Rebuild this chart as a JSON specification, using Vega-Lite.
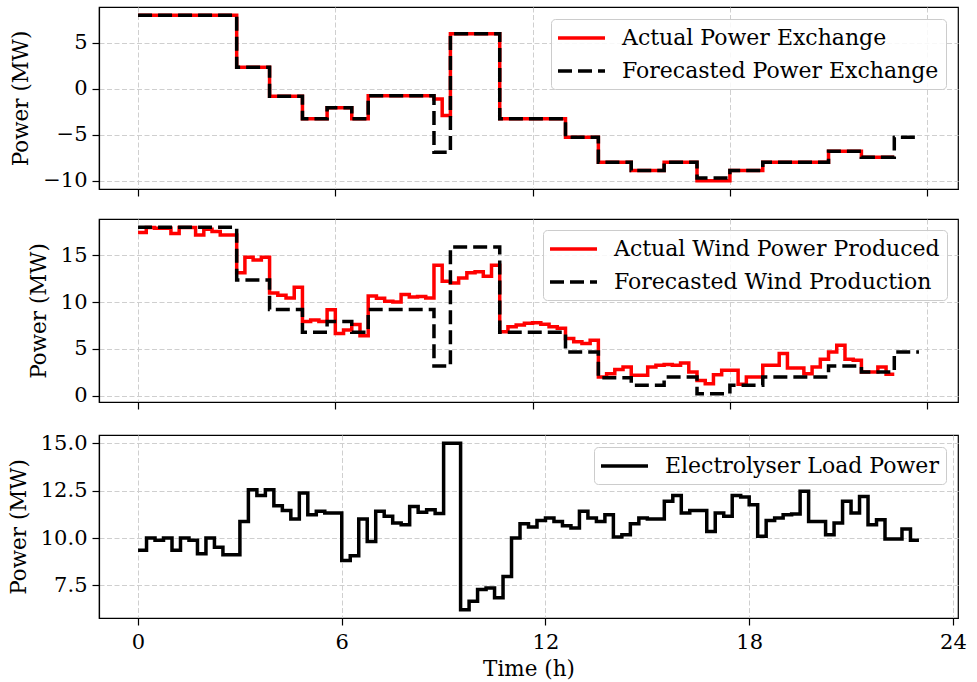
{
  "$schema": "https://vega.github.io/schema/vega-lite/v6.json",
  "background": "white",
  "padding": {"left": 7, "top": 6, "right": 20, "bottom": 2},
  "spacing": 20,
  "resolve": {"scale": {"color": "independent", "strokeDash": "independent"}, "legend": {"color": "independent", "strokeDash": "independent"}},
  "datasets": {
    "exchange": [
      {"t":0,"actual":8,"forecast":8},{"t":0.25,"actual":8,"forecast":8},{"t":0.5,"actual":8,"forecast":8},{"t":0.75,"actual":8,"forecast":8},
      {"t":1,"actual":8,"forecast":8},{"t":1.25,"actual":8,"forecast":8},{"t":1.5,"actual":8,"forecast":8},{"t":1.75,"actual":8,"forecast":8},
      {"t":2,"actual":8,"forecast":8},{"t":2.25,"actual":8,"forecast":8},{"t":2.5,"actual":8,"forecast":8},{"t":2.75,"actual":8,"forecast":8},
      {"t":3,"actual":2.35,"forecast":2.35},{"t":3.25,"actual":2.35,"forecast":2.35},{"t":3.5,"actual":2.35,"forecast":2.35},{"t":3.75,"actual":2.35,"forecast":2.35},
      {"t":4,"actual":-0.8,"forecast":-0.8},{"t":4.25,"actual":-0.8,"forecast":-0.8},{"t":4.5,"actual":-0.8,"forecast":-0.8},{"t":4.75,"actual":-0.8,"forecast":-0.8},
      {"t":5,"actual":-3.27,"forecast":-3.27},{"t":5.25,"actual":-3.27,"forecast":-3.27},{"t":5.5,"actual":-3.27,"forecast":-3.27},{"t":5.75,"actual":-2.07,"forecast":-2.07},
      {"t":6,"actual":-2.07,"forecast":-2.07},{"t":6.25,"actual":-2.07,"forecast":-2.07},{"t":6.5,"actual":-3.27,"forecast":-3.27},{"t":6.75,"actual":-3.27,"forecast":-3.27},
      {"t":7,"actual":-0.75,"forecast":-0.75},{"t":7.25,"actual":-0.75,"forecast":-0.75},{"t":7.5,"actual":-0.75,"forecast":-0.75},{"t":7.75,"actual":-0.75,"forecast":-0.75},
      {"t":8,"actual":-0.75,"forecast":-0.75},{"t":8.25,"actual":-0.75,"forecast":-0.75},{"t":8.5,"actual":-0.75,"forecast":-0.75},{"t":8.75,"actual":-0.75,"forecast":-0.75},
      {"t":9,"actual":-1.1,"forecast":-6.9},{"t":9.25,"actual":-2.9,"forecast":-6.9},{"t":9.5,"actual":6,"forecast":6},{"t":9.75,"actual":6,"forecast":6},
      {"t":10,"actual":6,"forecast":6},{"t":10.25,"actual":6,"forecast":6},{"t":10.5,"actual":6,"forecast":6},{"t":10.75,"actual":6,"forecast":6},
      {"t":11,"actual":-3.27,"forecast":-3.27},{"t":11.25,"actual":-3.27,"forecast":-3.27},{"t":11.5,"actual":-3.27,"forecast":-3.27},{"t":11.75,"actual":-3.27,"forecast":-3.27},
      {"t":12,"actual":-3.27,"forecast":-3.27},{"t":12.25,"actual":-3.27,"forecast":-3.27},{"t":12.5,"actual":-3.27,"forecast":-3.27},{"t":12.75,"actual":-3.27,"forecast":-3.27},
      {"t":13,"actual":-5.26,"forecast":-5.26},{"t":13.25,"actual":-5.26,"forecast":-5.26},{"t":13.5,"actual":-5.26,"forecast":-5.26},{"t":13.75,"actual":-5.26,"forecast":-5.26},
      {"t":14,"actual":-8,"forecast":-8},{"t":14.25,"actual":-8,"forecast":-8},{"t":14.5,"actual":-8,"forecast":-8},{"t":14.75,"actual":-8,"forecast":-8},
      {"t":15,"actual":-8.89,"forecast":-8.89},{"t":15.25,"actual":-8.89,"forecast":-8.89},{"t":15.5,"actual":-8.89,"forecast":-8.89},{"t":15.75,"actual":-8.89,"forecast":-8.89},
      {"t":16,"actual":-8,"forecast":-8},{"t":16.25,"actual":-8,"forecast":-8},{"t":16.5,"actual":-8,"forecast":-8},{"t":16.75,"actual":-8,"forecast":-8},
      {"t":17,"actual":-10,"forecast":-9.69},{"t":17.25,"actual":-10,"forecast":-9.69},{"t":17.5,"actual":-10,"forecast":-9.69},{"t":17.75,"actual":-10,"forecast":-9.69},
      {"t":18,"actual":-8.89,"forecast":-8.89},{"t":18.25,"actual":-8.89,"forecast":-8.89},{"t":18.5,"actual":-8.89,"forecast":-8.89},{"t":18.75,"actual":-8.89,"forecast":-8.89},
      {"t":19,"actual":-8,"forecast":-8},{"t":19.25,"actual":-8,"forecast":-8},{"t":19.5,"actual":-8,"forecast":-8},{"t":19.75,"actual":-8,"forecast":-8},
      {"t":20,"actual":-8,"forecast":-8},{"t":20.25,"actual":-8,"forecast":-8},{"t":20.5,"actual":-8,"forecast":-8},{"t":20.75,"actual":-8,"forecast":-8},
      {"t":21,"actual":-6.79,"forecast":-6.79},{"t":21.25,"actual":-6.79,"forecast":-6.79},{"t":21.5,"actual":-6.79,"forecast":-6.79},{"t":21.75,"actual":-6.79,"forecast":-6.79},
      {"t":22,"actual":-7.44,"forecast":-7.44},{"t":22.25,"actual":-7.44,"forecast":-7.44},{"t":22.5,"actual":-7.44,"forecast":-7.44},{"t":22.75,"actual":-7.44,"forecast":-7.44},
      {"t":23,"actual":-7.44,"forecast":-5.26},{"t":23.25,"actual":null,"forecast":-5.26},{"t":23.5,"actual":null,"forecast":-5.26},{"t":23.75,"actual":null,"forecast":-5.26}
    ],
    "wind": [
      {"t":0,"actual":17.44,"forecast":18},{"t":0.25,"actual":17.98,"forecast":18},{"t":0.5,"actual":17.9,"forecast":18},{"t":0.75,"actual":17.9,"forecast":18},
      {"t":1,"actual":17.33,"forecast":18},{"t":1.25,"actual":17.98,"forecast":18},{"t":1.5,"actual":17.98,"forecast":18},{"t":1.75,"actual":17.19,"forecast":18},
      {"t":2,"actual":17.8,"forecast":18},{"t":2.25,"actual":17.55,"forecast":18},{"t":2.5,"actual":17.19,"forecast":18},{"t":2.75,"actual":17.19,"forecast":18},
      {"t":3,"actual":13.13,"forecast":12.37},{"t":3.25,"actual":14.81,"forecast":12.37},{"t":3.5,"actual":14.49,"forecast":12.37},{"t":3.75,"actual":14.81,"forecast":12.37},
      {"t":4,"actual":10.97,"forecast":9.2},{"t":4.25,"actual":10.72,"forecast":9.2},{"t":4.5,"actual":10.43,"forecast":9.2},{"t":4.75,"actual":11.58,"forecast":9.2},
      {"t":5,"actual":7.91,"forecast":6.76},{"t":5.25,"actual":8.09,"forecast":6.76},{"t":5.5,"actual":7.91,"forecast":6.76},{"t":5.75,"actual":9.17,"forecast":7.91},
      {"t":6,"actual":6.65,"forecast":7.91},{"t":6.25,"actual":7.01,"forecast":7.91},{"t":6.5,"actual":7.6,"forecast":6.76},{"t":6.75,"actual":6.4,"forecast":6.76},
      {"t":7,"actual":10.65,"forecast":9.2},{"t":7.25,"actual":10.4,"forecast":9.2},{"t":7.5,"actual":10.1,"forecast":9.2},{"t":7.75,"actual":10.0,"forecast":9.2},
      {"t":8,"actual":10.8,"forecast":9.2},{"t":8.25,"actual":10.55,"forecast":9.2},{"t":8.5,"actual":10.6,"forecast":9.2},{"t":8.75,"actual":10.45,"forecast":9.2},
      {"t":9,"actual":13.95,"forecast":3.16},{"t":9.25,"actual":12.23,"forecast":3.16},{"t":9.5,"actual":12.05,"forecast":15.9},{"t":9.75,"actual":12.59,"forecast":15.9},
      {"t":10,"actual":13.13,"forecast":15.9},{"t":10.25,"actual":13.24,"forecast":15.9},{"t":10.5,"actual":12.77,"forecast":15.9},{"t":10.75,"actual":13.95,"forecast":15.9},
      {"t":11,"actual":6.83,"forecast":6.76},{"t":11.25,"actual":7.37,"forecast":6.76},{"t":11.5,"actual":7.55,"forecast":6.76},{"t":11.75,"actual":7.73,"forecast":6.76},
      {"t":12,"actual":7.8,"forecast":6.76},{"t":12.25,"actual":7.62,"forecast":6.76},{"t":12.5,"actual":7.37,"forecast":6.76},{"t":12.75,"actual":7.19,"forecast":6.76},
      {"t":13,"actual":6.11,"forecast":4.67},{"t":13.25,"actual":5.75,"forecast":4.67},{"t":13.5,"actual":5.57,"forecast":4.67},{"t":13.75,"actual":5.93,"forecast":4.67},
      {"t":14,"actual":1.98,"forecast":1.9},{"t":14.25,"actual":2.34,"forecast":1.9},{"t":14.5,"actual":2.8,"forecast":1.9},{"t":14.75,"actual":3.06,"forecast":1.9},
      {"t":15,"actual":2.16,"forecast":1.1},{"t":15.25,"actual":2.16,"forecast":1.1},{"t":15.5,"actual":3.06,"forecast":1.1},{"t":15.75,"actual":3.24,"forecast":1.1},
      {"t":16,"actual":3.31,"forecast":1.98},{"t":16.25,"actual":3.24,"forecast":1.98},{"t":16.5,"actual":3.49,"forecast":1.98},{"t":16.75,"actual":2.52,"forecast":1.98},
      {"t":17,"actual":1.62,"forecast":0.2},{"t":17.25,"actual":1.26,"forecast":0.2},{"t":17.5,"actual":2.23,"forecast":0.2},{"t":17.75,"actual":2.7,"forecast":0.2},
      {"t":18,"actual":2.7,"forecast":1.1},{"t":18.25,"actual":1.2,"forecast":1.1},{"t":18.5,"actual":1.98,"forecast":1.1},{"t":18.75,"actual":1.98,"forecast":1.1},
      {"t":19,"actual":3.24,"forecast":1.98},{"t":19.25,"actual":3.24,"forecast":1.98},{"t":19.5,"actual":4.5,"forecast":1.98},{"t":19.75,"actual":2.95,"forecast":1.98},
      {"t":20,"actual":2.95,"forecast":1.98},{"t":20.25,"actual":2.34,"forecast":1.98},{"t":20.5,"actual":3.06,"forecast":1.98},{"t":20.75,"actual":3.88,"forecast":1.98},
      {"t":21,"actual":4.67,"forecast":3.16},{"t":21.25,"actual":5.39,"forecast":3.16},{"t":21.5,"actual":3.88,"forecast":3.16},{"t":21.75,"actual":3.78,"forecast":3.16},
      {"t":22,"actual":2.52,"forecast":2.52},{"t":22.25,"actual":2.52,"forecast":2.52},{"t":22.5,"actual":3.06,"forecast":2.52},{"t":22.75,"actual":2.27,"forecast":2.52},
      {"t":23,"actual":2.27,"forecast":4.67},{"t":23.25,"actual":null,"forecast":4.67},{"t":23.5,"actual":null,"forecast":4.67},{"t":23.75,"actual":null,"forecast":4.67}
    ],
    "electrolyser": [
      {"t":0,"load":9.35},{"t":0.25,"load":10.0},{"t":0.5,"load":9.88},{"t":0.75,"load":10.0},
      {"t":1,"load":9.35},{"t":1.25,"load":10.0},{"t":1.5,"load":9.88},{"t":1.75,"load":9.17},
      {"t":2,"load":10.0},{"t":2.25,"load":9.52},{"t":2.5,"load":9.12},{"t":2.75,"load":9.12},
      {"t":3,"load":10.88},{"t":3.25,"load":12.55},{"t":3.5,"load":12.24},{"t":3.75,"load":12.55},
      {"t":4,"load":11.71},{"t":4.25,"load":11.46},{"t":4.5,"load":11.01},{"t":4.75,"load":12.38},
      {"t":5,"load":11.23},{"t":5.25,"load":11.41},{"t":5.5,"load":11.32},{"t":5.75,"load":11.32},
      {"t":6,"load":8.82},{"t":6.25,"load":9.07},{"t":6.5,"load":11.01},{"t":6.75,"load":9.82},
      {"t":7,"load":11.41},{"t":7.25,"load":11.15},{"t":7.5,"load":10.79},{"t":7.75,"load":10.7},
      {"t":8,"load":11.67},{"t":8.25,"load":11.36},{"t":8.5,"load":11.5},{"t":8.75,"load":11.29},
      {"t":9,"load":15.0},{"t":9.25,"load":15.0},{"t":9.5,"load":6.22},{"t":9.75,"load":6.66},
      {"t":10,"load":7.28},{"t":10.25,"load":7.37},{"t":10.5,"load":6.85},{"t":10.75,"load":7.97},
      {"t":11,"load":10.0},{"t":11.25,"load":10.76},{"t":11.5,"load":10.58},{"t":11.75,"load":10.93},
      {"t":12,"load":11.06},{"t":12.25,"load":10.88},{"t":12.5,"load":10.65},{"t":12.75,"load":10.53},
      {"t":13,"load":11.41},{"t":13.25,"load":11.06},{"t":13.5,"load":10.88},{"t":13.75,"load":11.23},
      {"t":14,"load":10.05},{"t":14.25,"load":10.18},{"t":14.5,"load":10.76},{"t":14.75,"load":11.06},
      {"t":15,"load":11.01},{"t":15.25,"load":11.01},{"t":15.5,"load":11.94},{"t":15.75,"load":12.24},
      {"t":16,"load":11.32},{"t":16.25,"load":11.46},{"t":16.5,"load":11.46},{"t":16.75,"load":10.35},
      {"t":17,"load":11.32},{"t":17.25,"load":11.15},{"t":17.5,"load":12.24},{"t":17.75,"load":12.17},
      {"t":18,"load":11.76},{"t":18.25,"load":10.09},{"t":18.5,"load":10.93},{"t":18.75,"load":11.06},
      {"t":19,"load":11.23},{"t":19.25,"load":11.27},{"t":19.5,"load":12.47},{"t":19.75,"load":10.88},
      {"t":20,"load":10.88},{"t":20.25,"load":10.18},{"t":20.5,"load":10.79},{"t":20.75,"load":11.94},
      {"t":21,"load":11.32},{"t":21.25,"load":12.2},{"t":21.5,"load":10.7},{"t":21.75,"load":10.97},
      {"t":22,"load":9.95},{"t":22.25,"load":9.95},{"t":22.5,"load":10.48},{"t":22.75,"load":9.88},
      {"t":23,"load":9.88}
    ]
  },
  "vconcat": [
    {
      "width": 859,
      "height": 182,
      "data": {"name": "exchange"},
      "transform": [{"fold": ["actual", "forecast"], "as": ["series", "power"]}],
      "encoding": {
        "x": {"field": "t", "type": "quantitative", "scale": {"domain": [-1.1875, 24.9375], "nice": false, "zero": false}, "axis": {"values": [0, 6, 12, 18, 24], "labels": false, "title": null}},
        "y": {"field": "power", "type": "quantitative", "scale": {"domain": [-10.9, 8.9], "nice": false, "zero": false}, "axis": {"values": [-10, -5, 0, 5], "format": "d", "title": "Power (MW)"}},
        "color": {"field": "series", "type": "nominal", "scale": {"domain": ["actual", "forecast"], "range": ["#ff0000", "#000000"]},
          "legend": {"title": null, "orient": "top-right", "offset": 12, "symbolType": "M-2.35,0H2.35", "symbolSize": 400, "symbolStrokeWidth": 3.5, "symbolOffset": 11.5, "labelOffset": 28.5, "rowPadding": 10, "padding": 7,
            "labelExpr": "datum.label == 'actual' ? 'Actual Power Exchange' : 'Forecasted Power Exchange'"}},
        "strokeDash": {"field": "series", "type": "nominal", "scale": {"domain": ["actual", "forecast"], "range": [[1, 0], [14, 6]]},
          "legend": {"title": null, "orient": "top-right", "offset": 12, "symbolType": "M-2.35,0H2.35", "symbolSize": 400, "symbolStrokeWidth": 3.5, "symbolOffset": 11.5, "labelOffset": 28.5, "rowPadding": 10, "padding": 7,
            "labelExpr": "datum.label == 'actual' ? 'Actual Power Exchange' : 'Forecasted Power Exchange'"}}
      },
      "layer": [
        {"transform": [{"filter": "datum.series == 'actual'"}], "mark": {"type": "line", "interpolate": "step-after", "strokeWidth": 3.5}},
        {"transform": [{"filter": "datum.series == 'forecast'"}], "mark": {"type": "line", "interpolate": "step-after", "strokeWidth": 3.5}}
      ]
    },
    {
      "width": 859,
      "height": 183,
      "data": {"name": "wind"},
      "transform": [{"fold": ["actual", "forecast"], "as": ["series", "power"]}],
      "encoding": {
        "x": {"field": "t", "type": "quantitative", "scale": {"domain": [-1.1875, 24.9375], "nice": false, "zero": false}, "axis": {"values": [0, 6, 12, 18, 24], "labels": false, "title": null}},
        "y": {"field": "power", "type": "quantitative", "scale": {"domain": [-0.69, 18.89], "nice": false, "zero": false}, "axis": {"values": [0, 5, 10, 15], "format": "d", "title": "Power (MW)"}},
        "color": {"field": "series", "type": "nominal", "scale": {"domain": ["actual", "forecast"], "range": ["#ff0000", "#000000"]},
          "legend": {"title": null, "orient": "top-right", "offset": 11, "symbolType": "M-2.35,0H2.35", "symbolSize": 400, "symbolStrokeWidth": 3.5, "symbolOffset": 11.5, "labelOffset": 28.5, "rowPadding": 10, "padding": 7,
            "labelExpr": "datum.label == 'actual' ? 'Actual Wind Power Produced' : 'Forecasted Wind Production'"}},
        "strokeDash": {"field": "series", "type": "nominal", "scale": {"domain": ["actual", "forecast"], "range": [[1, 0], [14, 6]]},
          "legend": {"title": null, "orient": "top-right", "offset": 11, "symbolType": "M-2.35,0H2.35", "symbolSize": 400, "symbolStrokeWidth": 3.5, "symbolOffset": 11.5, "labelOffset": 28.5, "rowPadding": 10, "padding": 7,
            "labelExpr": "datum.label == 'actual' ? 'Actual Wind Power Produced' : 'Forecasted Wind Production'"}}
      },
      "layer": [
        {"transform": [{"filter": "datum.series == 'actual'"}], "mark": {"type": "line", "interpolate": "step-after", "strokeWidth": 3.5}},
        {"transform": [{"filter": "datum.series == 'forecast'"}], "mark": {"type": "line", "interpolate": "step-after", "strokeWidth": 3.5}}
      ]
    },
    {
      "width": 859,
      "height": 183,
      "data": {"name": "electrolyser"},
      "mark": {"type": "line", "interpolate": "step-after", "strokeWidth": 3.5},
      "encoding": {
        "x": {"field": "t", "type": "quantitative", "scale": {"domain": [-1.15, 24.15], "nice": false, "zero": false}, "axis": {"values": [0, 6, 12, 18, 24], "format": "d", "title": "Time (h)", "labelPadding": 6, "titlePadding": 6}},
        "y": {"field": "load", "type": "quantitative", "scale": {"domain": [5.78, 15.44], "nice": false, "zero": false}, "axis": {"values": [7.5, 10, 12.5, 15], "format": ".1f", "title": "Power (MW)"}},
        "color": {"datum": "Electrolyser Load Power", "type": "nominal", "scale": {"domain": ["Electrolyser Load Power"], "range": ["#000000"]},
          "legend": {"title": null, "orient": "top-right", "offset": 12, "symbolType": "M-2.35,0H2.35", "symbolSize": 400, "symbolStrokeWidth": 3.5, "symbolOffset": 11.5, "labelOffset": 28.5, "rowPadding": 10, "padding": 7}}
      }
    }
  ],
  "config": {
    "font": "DejaVu Serif",
    "view": {"stroke": "#000000", "strokeWidth": 1.2},
    "axis": {
      "labelFont": "DejaVu Serif", "labelFontSize": 21, "labelColor": "#000000", "labelPadding": 5,
      "titleFont": "DejaVu Serif", "titleFontSize": 21.5, "titleFontWeight": "normal", "titleColor": "#000000",
      "tickColor": "#000000", "tickSize": 7, "tickWidth": 1.2,
      "domainColor": "#000000", "domainWidth": 1.2,
      "grid": true, "gridColor": "#cfcfcf", "gridDash": [5, 2.5], "gridWidth": 1
    },
    "axisY": {"titlePadding": 10},
    "legend": {
      "labelFont": "DejaVu Serif", "labelFontSize": 22, "labelColor": "#000000", "labelLimit": 0,
      "strokeColor": "#cccccc", "cornerRadius": 4, "fillColor": "rgba(255,255,255,0.85)"
    }
  }
}
